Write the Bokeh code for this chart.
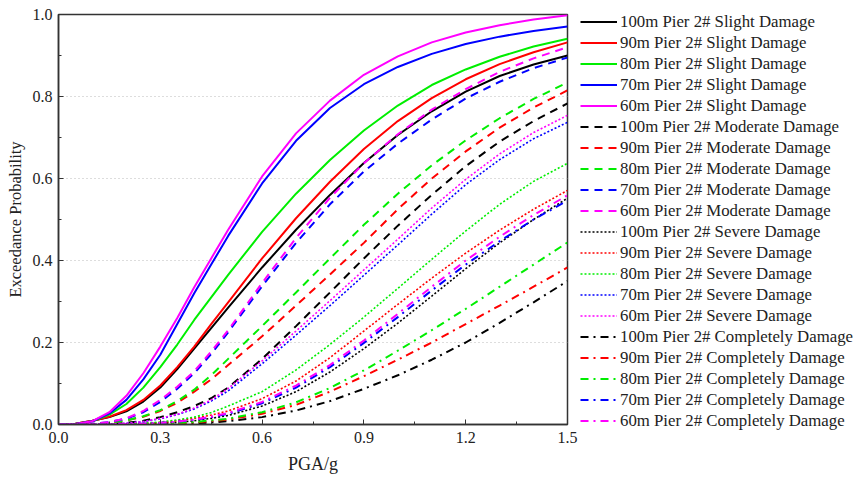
from bokeh.plotting import figure
from bokeh.models import FixedTicker, Legend, LegendItem, PrintfTickFormatter, Range1d
from bokeh.embed import file_html
from bokeh.resources import INLINE

pga = [0.0, 0.05, 0.1, 0.15, 0.2, 0.25, 0.3, 0.35, 0.4, 0.45, 0.5,
       0.6, 0.7, 0.8, 0.9, 1.0, 1.1, 1.2, 1.3, 1.4, 1.5]

slight_100 = [0, 0.002, 0.009, 0.018, 0.032, 0.056, 0.09, 0.135, 0.185, 0.235, 0.285, 0.383, 0.475, 0.56, 0.638, 0.706, 0.764, 0.812, 0.85, 0.878, 0.9]
slight_90 = [0, 0.002, 0.009, 0.019, 0.035, 0.06, 0.095, 0.14, 0.19, 0.245, 0.298, 0.405, 0.503, 0.592, 0.672, 0.74, 0.796, 0.842, 0.879, 0.908, 0.932]
slight_80 = [0, 0.001, 0.008, 0.024, 0.05, 0.09, 0.14, 0.195, 0.255, 0.31, 0.365, 0.47, 0.563, 0.645, 0.717, 0.778, 0.828, 0.866, 0.897, 0.922, 0.941]
slight_70 = [0, 0.001, 0.008, 0.027, 0.06, 0.11, 0.17, 0.245, 0.32, 0.39, 0.46, 0.588, 0.692, 0.772, 0.83, 0.872, 0.904, 0.928, 0.946, 0.96, 0.971]
slight_60 = [0, 0.001, 0.008, 0.03, 0.07, 0.125, 0.19, 0.26, 0.335, 0.405, 0.475, 0.605, 0.71, 0.79, 0.853, 0.898, 0.932, 0.956, 0.974, 0.988, 0.998]

moderate_100 = [0, 0, 0, 0.001, 0.004, 0.009, 0.018, 0.03, 0.045, 0.064, 0.09, 0.16, 0.24, 0.322, 0.405, 0.485, 0.56, 0.63, 0.69, 0.74, 0.783]
moderate_90 = [0, 0, 0.001, 0.004, 0.01, 0.019, 0.033, 0.053, 0.08, 0.11, 0.145, 0.215, 0.29, 0.366, 0.443, 0.525, 0.6, 0.666, 0.724, 0.773, 0.815]
moderate_80 = [0, 0, 0.001, 0.004, 0.01, 0.02, 0.035, 0.057, 0.085, 0.12, 0.16, 0.24, 0.322, 0.405, 0.487, 0.563, 0.632, 0.693, 0.747, 0.794, 0.834]
moderate_70 = [0, 0, 0.002, 0.006, 0.014, 0.03, 0.055, 0.087, 0.125, 0.172, 0.225, 0.337, 0.443, 0.537, 0.617, 0.685, 0.744, 0.795, 0.836, 0.869, 0.895]
moderate_60 = [0, 0, 0.002, 0.006, 0.015, 0.033, 0.06, 0.092, 0.13, 0.178, 0.23, 0.345, 0.455, 0.553, 0.637, 0.708, 0.768, 0.818, 0.86, 0.893, 0.92]

severe_100 = [0, 0, 0, 0, 0.001, 0.002, 0.003, 0.005, 0.009, 0.015, 0.022, 0.045, 0.08, 0.128, 0.185, 0.247, 0.313, 0.38, 0.443, 0.5, 0.552]
severe_90 = [0, 0, 0, 0, 0.001, 0.002, 0.005, 0.009, 0.015, 0.023, 0.033, 0.063, 0.106, 0.163, 0.228, 0.293, 0.357, 0.418, 0.474, 0.525, 0.571]
severe_80 = [0, 0, 0, 0, 0.001, 0.003, 0.006, 0.011, 0.018, 0.029, 0.045, 0.08, 0.133, 0.195, 0.262, 0.332, 0.403, 0.472, 0.537, 0.593, 0.637]
severe_70 = [0, 0, 0, 0.001, 0.003, 0.007, 0.014, 0.024, 0.038, 0.057, 0.082, 0.148, 0.218, 0.29, 0.364, 0.438, 0.513, 0.585, 0.646, 0.697, 0.737]
severe_60 = [0, 0, 0, 0.001, 0.003, 0.007, 0.015, 0.025, 0.04, 0.06, 0.088, 0.155, 0.228, 0.302, 0.377, 0.452, 0.528, 0.598, 0.66, 0.712, 0.754]

complete_100 = [0, 0, 0, 0, 0, 0, 0.001, 0.002, 0.003, 0.005, 0.008, 0.018, 0.034, 0.057, 0.087, 0.12, 0.158, 0.2, 0.248, 0.298, 0.35]
complete_90 = [0, 0, 0, 0, 0, 0.001, 0.002, 0.003, 0.005, 0.008, 0.012, 0.026, 0.048, 0.08, 0.118, 0.158, 0.2, 0.245, 0.29, 0.336, 0.383]
complete_80 = [0, 0, 0, 0, 0, 0.001, 0.002, 0.004, 0.006, 0.01, 0.014, 0.03, 0.054, 0.089, 0.132, 0.18, 0.23, 0.282, 0.336, 0.39, 0.444]
complete_70 = [0, 0, 0, 0, 0.001, 0.002, 0.004, 0.007, 0.011, 0.018, 0.026, 0.052, 0.09, 0.14, 0.199, 0.262, 0.327, 0.39, 0.447, 0.5, 0.546]
complete_60 = [0, 0, 0, 0, 0.001, 0.002, 0.004, 0.007, 0.012, 0.019, 0.028, 0.055, 0.095, 0.145, 0.205, 0.27, 0.336, 0.4, 0.458, 0.511, 0.559]

spans = ["100m", "90m", "80m", "70m", "60m"]
colors = ["#000000", "#ff0000", "#00ee00", "#0000ff", "#ff00ff"]
states = ["Slight Damage", "Moderate Damage", "Severe Damage", "Completely Damage"]
series = [
    [slight_100, slight_90, slight_80, slight_70, slight_60],
    [moderate_100, moderate_90, moderate_80, moderate_70, moderate_60],
    [severe_100, severe_90, severe_80, severe_70, severe_60],
    [complete_100, complete_90, complete_80, complete_70, complete_60],
]
dashes = ["solid", "8 6", "2 2", "8 5 2 5"]
widths = [2, 2, 1.6, 2]

x_ticks = [0.0, 0.3, 0.6, 0.9, 1.2, 1.5]
x_minor = [0.15, 0.45, 0.75, 1.05, 1.35]
y_ticks = [0.0, 0.2, 0.4, 0.6, 0.8, 1.0]
y_minor = [0.1, 0.3, 0.5, 0.7, 0.9]

FONT = "Liberation Serif"
TXT = "#222222"

p = figure(frame_width=509, frame_height=410, output_backend="svg", toolbar_location=None,
           x_range=Range1d(0, 1.5), y_range=Range1d(0, 1.0),
           min_border_left=58, min_border_right=0, min_border_top=14, min_border_bottom=52,
           background_fill_color="white", border_fill_color="white")

items = []
for si, state in enumerate(states):
    for ki, span in enumerate(spans):
        r = p.line(pga, series[si][ki], line_color=colors[ki], line_width=widths[si],
                   line_dash=dashes[si])
        items.append(LegendItem(label=f"{span} Pier 2# {state}", renderers=[r]))

p.xaxis.ticker = FixedTicker(ticks=x_ticks, minor_ticks=x_minor)
p.yaxis.ticker = FixedTicker(ticks=y_ticks, minor_ticks=y_minor)
p.xaxis.formatter = PrintfTickFormatter(format="%.1f")
p.yaxis.formatter = PrintfTickFormatter(format="%.1f")

for ax in (p.xaxis, p.yaxis):
    ax.major_tick_in = 5
    ax.major_tick_out = 0
    ax.minor_tick_in = 3
    ax.minor_tick_out = 0
    ax.axis_line_color = "#333333"
    ax.axis_line_width = 1.5
    ax.major_tick_line_color = "#333333"
    ax.minor_tick_line_color = "#333333"
    ax.major_label_text_font = FONT
    ax.major_label_text_font_size = "16px"
    ax.major_label_text_color = TXT
    ax.axis_label_text_font = FONT
    ax.axis_label_text_font_style = "normal"
    ax.axis_label_text_color = TXT

p.xaxis.axis_label = "PGA/g"
p.yaxis.axis_label = "Exceedance Probability"
p.xaxis.axis_label_text_font_size = "18px"
p.yaxis.axis_label_text_font_size = "16.5px"
p.xaxis.major_label_standoff = 7
p.yaxis.major_label_standoff = 6
p.xaxis.axis_label_standoff = 8
p.yaxis.axis_label_standoff = 5

p.xgrid.visible = False
p.ygrid.grid_line_color = "#bbbbbb"
p.ygrid.grid_line_dash = "1 3"
p.ygrid.grid_line_width = 1

p.outline_line_color = "#333333"
p.outline_line_width = 1.5

legend = Legend(items=items, location=(13, -7))
legend.background_fill_alpha = 0
legend.border_line_alpha = 0
legend.padding = 0
legend.margin = 9
legend.spacing = 0
legend.glyph_width = 37
legend.glyph_height = 21
legend.label_height = 21
legend.label_standoff = 3
legend.label_text_font = FONT
legend.label_text_font_size = "16.8px"
legend.label_text_color = TXT
p.add_layout(legend, "right")

open("out.html", "w").write(file_html(p, INLINE))
